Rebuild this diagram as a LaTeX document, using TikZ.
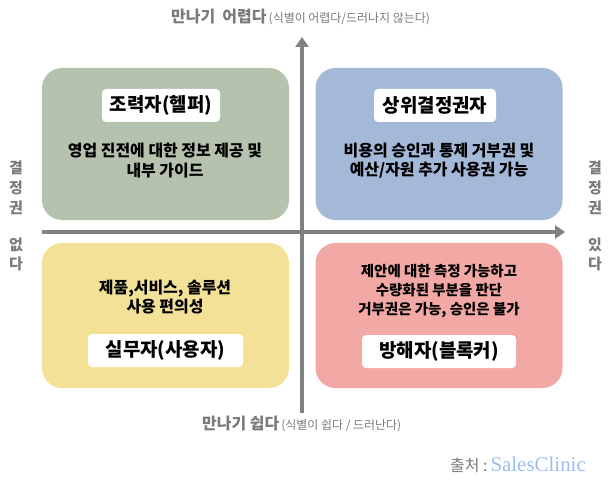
\documentclass[tikz,border=0pt]{standalone}
\usepackage{fontspec}
\setmainfont{Noto Sans CJK KR}
\newfontfamily\latinserif{Liberation Serif}
\usetikzlibrary{arrows.meta}
\definecolor{axisgray}{HTML}{808080}
\definecolor{labelgray}{HTML}{7A7A7A}
\definecolor{helpergreen}{HTML}{B5C3AE}
\definecolor{deciderblue}{HTML}{A4B8D8}
\definecolor{useryellow}{HTML}{F2E196}
\definecolor{blockerred}{HTML}{F2A8A4}
\definecolor{sourceblue}{HTML}{9CBDF0}
\tikzset{
  quad/.style={rounded corners=20bp, inner sep=0pt, minimum width=247bp},
  titlebox/.style={fill=white, rounded corners=4bp, minimum height=33bp, inner sep=0pt,
    font=\fontsize{19}{22}\selectfont\bfseries},
  desc/.style={align=center, font=\fontsize{16}{19.5}\selectfont\bfseries},
  sidelabel/.style={text=labelgray, align=center, font=\fontsize{15}{20}\selectfont\bfseries},
  axisarrow/.style={draw=axisgray, line width=4bp, -{Triangle[length=10bp,width=13bp]}}
}
\begin{document}
\begin{tikzpicture}[x=1bp,y=-1bp]
\useasboundingbox (0,0) rectangle (612,490);
% quadrants
\node[quad, fill=helpergreen, minimum height=152bp] (helper) at (165.5,144) {};
\node[quad, fill=deciderblue, minimum height=152bp] (decider) at (439,144) {};
\node[quad, fill=useryellow, minimum height=145bp] (user) at (165.5,315.5) {};
\node[quad, fill=blockerred, minimum height=145bp] (blocker) at (439,315.5) {};
% axes
\coordinate (xstart) at (42,232);
\coordinate (xend) at (565,232);
\coordinate (ystart) at (302,413);
\coordinate (yend) at (302,37);
\draw[axisarrow] (xstart) -- (xend);
\draw[axisarrow] (ystart) -- (yend);
% titles and texts
\path
  (161,105.5) node[titlebox, minimum width=118bp] (helpertitle) {조력자(헬퍼)}
  (435,105.5) node[titlebox, minimum width=122bp] (decidertitle) {상위결정권자}
  (165.5,350.5) node[titlebox, minimum width=155bp] (usertitle) {실무자(사용자)}
  (439,351.5) node[titlebox, minimum width=154bp] (blockertitle) {방해자(블록커)};
\path
  (165,160.5) node[desc] (helpertext) {영업 진전에 대한 정보 제공 및\\내부 가이드}
  (439,160.5) node[desc] (decidertext) {비용의 승인과 통제 거부권 및\\예산/자원 추가 사용권 가능}
  (165,297) node[desc] (usertext) {제품,서비스, 솔루션\\사용 편의성}
  (439,291) node[desc, font=\fontsize{14.5}{19.5}\selectfont\bfseries] (blockertext)
    {제안에 대한 측정 가능하고\\수량화된 부분을 판단\\거부권은 가능, 승인은 불가};
% axis labels
\path
  (171,17) node[anchor=west, text=labelgray, inner sep=0pt] (hardlabel)
    {{\fontsize{16}{18}\selectfont\bfseries 만나기\ \ 어렵다} {\fontsize{12}{14}\selectfont (식별이 어렵다/드러나지 않는다)}}
  (202,424) node[anchor=west, text=labelgray, inner sep=0pt] (easylabel)
    {{\fontsize{16}{18}\selectfont\bfseries 만나기 쉽다} {\fontsize{12}{14}\selectfont (식별이 쉽다 / 드러난다)}}
  (16,216) node[sidelabel] (nodecision) {결\\정\\권\\[17bp]없\\다}
  (595,216) node[sidelabel] (hasdecision) {결\\정\\권\\[17bp]있\\다};
% source
\node[anchor=east, inner sep=0pt] (source) at (586,465)
  {{\color{labelgray}\fontsize{16}{18}\selectfont 출처 :} {\color{sourceblue}\latinserif\fontsize{21}{24}\selectfont SalesClinic}};
\end{tikzpicture}
\end{document}
